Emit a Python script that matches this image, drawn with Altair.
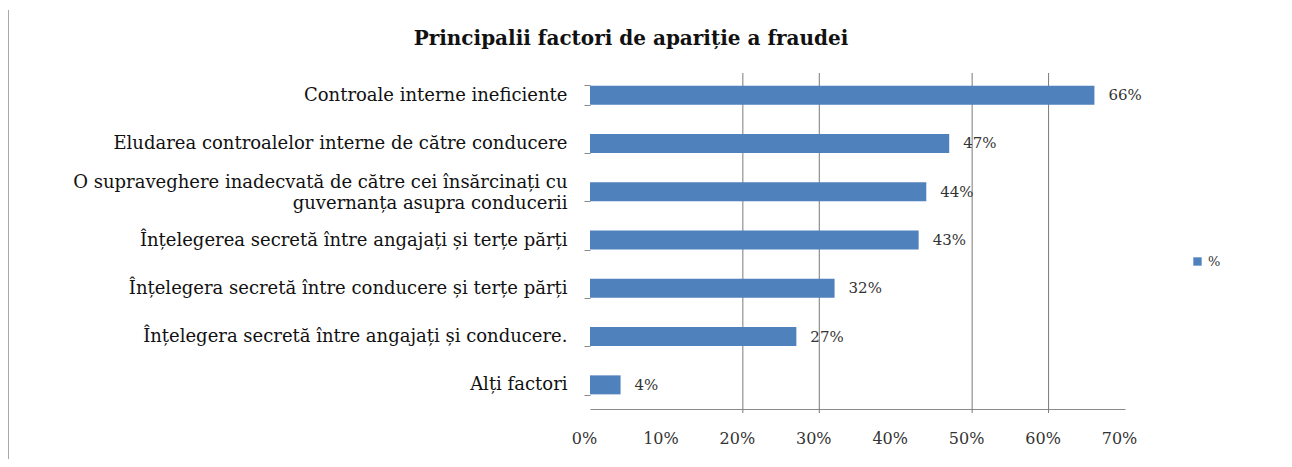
import altair as alt
import pandas as pd

categories = [
    "Controale interne ineficiente ",
    "Eludarea controalelor interne de către conducere",
    "O supraveghere inadecvată de către cei  însărcinați cu|guvernanța asupra conducerii",
    "Înțelegerea  secretă între angajați și terțe părți",
    "Înțelegera secretă între conducere și terțe părți",
    "Înțelegera secretă între angajați și conducere.",
    "Alți factori",
]
values = [66, 47, 44, 43, 32, 27, 4]
value_labels = ["66%", "47%", "44%", "43%", "32%", "27%", "4%"]
x_ticks = [0, 10, 20, 30, 40, 50, 60, 70]
grid_values = [20, 30, 50, 60]
series_name = "%"
title_text = "Principalii factori de apariție a fraudei"

df = pd.DataFrame({
    "cat": categories,
    "value": values,
    "label": value_labels,
    "series": [series_name] * len(categories),
})

SERIF = "DejaVu Serif"
BLUE = "#4F81BD"
GRAY = "#8a8a8a"

y_enc = alt.Y(
    "cat:N",
    sort=categories,
    scale=alt.Scale(paddingInner=0.6, paddingOuter=0.3),
    axis=alt.Axis(
        title=None,
        domain=False,
        ticks=True,
        tickBand="extent",
        tickSize=6,
        tickColor=GRAY,
        labelFont=SERIF,
        labelFontSize=18,
        labelColor="#111111",
        labelPadding=17,
        labelLimit=700,
        labelLineHeight=21,
        labelOffset={"condition": {"test": "indexof(datum.label, '|') >= 0", "value": -9}, "value": 0},
        labelExpr="split(datum.label, '|')",
    ),
)
x_enc = alt.X(
    "value:Q",
    scale=alt.Scale(domain=[0, 70], nice=False),
    axis=alt.Axis(
        title=None,
        values=x_ticks,
        labelExpr="datum.value + '%'",
        ticks=False,
        grid=False,
        domainColor=GRAY,
        labelFont=SERIF,
        labelFontSize=16,
        labelColor="#333333",
        labelPadding=21,
        labelOffset=-6,
        labelFlush=False,
        labelOverlap=False,
    ),
)

grid = alt.Chart(pd.DataFrame({"g": grid_values})).mark_rule(
    color="#7a7a7a", strokeWidth=1
).encode(
    x=alt.X("g:Q", scale=alt.Scale(domain=[0, 70], nice=False)),
    y=alt.value(2),
    y2=alt.value(342),
)

frame = alt.Chart(pd.DataFrame({"f": [0]})).mark_rule(
    color="#a8a8a8", strokeWidth=2
).encode(
    x=alt.value(-582),
    y=alt.value(-61),
    y2=alt.value(400),
)

title = alt.Chart(pd.DataFrame({"t": [title_text]})).mark_text(
    font=SERIF, fontSize=20, fontWeight="bold", color="#111111",
    align="center", baseline="middle",
).encode(
    text="t:N",
    x=alt.value(41),
    y=alt.value(-32),
)

bars = alt.Chart(df).mark_bar(size=19).encode(
    y=y_enc,
    x=x_enc,
    color=alt.Color(
        "series:N",
        scale=alt.Scale(range=[BLUE]),
        legend=alt.Legend(
            title=None,
            orient="none",
            legendX=601,
            legendY=184,
            symbolType="square",
            symbolSize=70,
            labelFont=SERIF,
            labelFontSize=13,
            labelColor="#333333",
        ),
    ),
)

texts = alt.Chart(df).mark_text(
    align="left", baseline="middle", dx=14, font=SERIF, fontSize=15, color="#333333"
).encode(
    y=alt.Y("cat:N", sort=categories),
    x=alt.X("value:Q"),
    text="label:N",
)

chart = alt.layer(grid, bars, texts, frame, title).properties(
    width=535,
    height=338,
    autosize=alt.AutoSizeParams(type="none"),
    padding={"left": 582, "top": 63, "right": 159, "bottom": 50},
).configure_view(stroke=None)

chart.save("out.html", embed_options={"renderer": "svg", "actions": False})
